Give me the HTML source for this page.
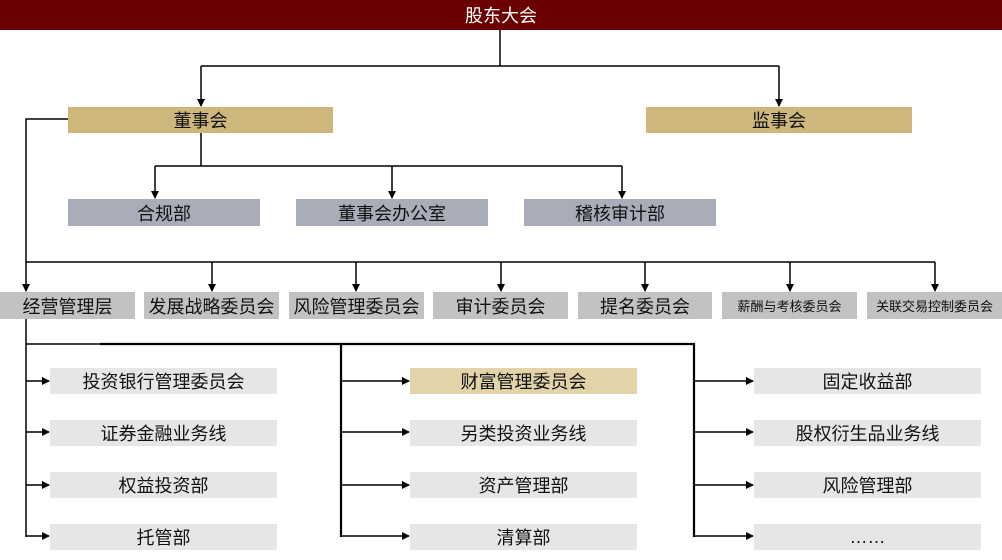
<!DOCTYPE html>
<html><head><meta charset="utf-8"><style>
body{margin:0;width:1002px;height:560px;background:#fff;position:relative;overflow:hidden;font-family:"Liberation Sans","Noto Sans CJK SC",sans-serif}
.b{position:absolute;display:flex;align-items:center;justify-content:center;color:#111;font-size:18px;white-space:nowrap}
svg{position:absolute;left:0;top:0}
</style></head><body>
<div class="b" style="left:0;top:0;width:1002px;height:30px;background:#6b0000;color:#fff;font-size:18px">股东大会</div>
<div class="b" style="left:68px;top:107px;width:265px;height:26px;background:#cdb77d">董事会</div>
<div class="b" style="left:646px;top:107px;width:266px;height:26px;background:#cdb77d">监事会</div>
<div class="b" style="left:68px;top:199px;width:192px;height:27px;background:#a9acb9">合规部</div>
<div class="b" style="left:296px;top:199px;width:192px;height:27px;background:#a9acb9">董事会办公室</div>
<div class="b" style="left:524px;top:199px;width:192px;height:27px;background:#a9acb9">稽核审计部</div>
<div class="b" style="left:0;top:292px;width:135px;height:27px;background:#c2c2c4">经营管理层</div>
<div class="b" style="left:144px;top:292px;width:135px;height:27px;background:#c2c2c4">发展战略委员会</div>
<div class="b" style="left:289px;top:292px;width:135px;height:27px;background:#c2c2c4">风险管理委员会</div>
<div class="b" style="left:433px;top:292px;width:135px;height:27px;background:#c2c2c4">审计委员会</div>
<div class="b" style="left:578px;top:292px;width:134px;height:27px;background:#c2c2c4">提名委员会</div>
<div class="b" style="left:722px;top:292px;width:135px;height:27px;background:#c2c2c4;font-size:13px">薪酬与考核委员会</div>
<div class="b" style="left:867px;top:292px;width:135px;height:27px;background:#c2c2c4;font-size:13px">关联交易控制委员会</div>

<div class="b" style="left:50px;top:368px;width:227px;height:26px;background:#e6e6e8">投资银行管理委员会</div>
<div class="b" style="left:50px;top:420px;width:227px;height:26px;background:#e6e6e8">证券金融业务线</div>
<div class="b" style="left:50px;top:472px;width:227px;height:26px;background:#e6e6e8">权益投资部</div>
<div class="b" style="left:50px;top:524px;width:227px;height:26px;background:#e6e6e8">托管部</div>
<div class="b" style="left:410px;top:368px;width:227px;height:26px;background:#e2d3a8">财富管理委员会</div>
<div class="b" style="left:410px;top:420px;width:227px;height:26px;background:#e6e6e8">另类投资业务线</div>
<div class="b" style="left:410px;top:472px;width:227px;height:26px;background:#e6e6e8">资产管理部</div>
<div class="b" style="left:410px;top:524px;width:227px;height:26px;background:#e6e6e8">清算部</div>
<div class="b" style="left:754px;top:368px;width:227px;height:26px;background:#e6e6e8">固定收益部</div>
<div class="b" style="left:754px;top:420px;width:227px;height:26px;background:#e6e6e8">股权衍生品业务线</div>
<div class="b" style="left:754px;top:472px;width:227px;height:26px;background:#e6e6e8">风险管理部</div>
<div class="b" style="left:754px;top:524px;width:227px;height:26px;background:#e6e6e8">……</div>

<svg width="1002" height="560">
<defs><marker id="a" markerWidth="8" markerHeight="8" refX="7" refY="4" orient="auto" markerUnits="userSpaceOnUse"><path d="M0,0L8,4L0,8z" fill="#000"/></marker></defs>
<g stroke="#000" stroke-width="1.5" fill="none">
<path d="M500,30V66M201,66H779"/>
<path d="M201,133V166M155,166H622"/>
<path d="M68,119H26V262M26,262H935"/>
<path d="M26,319V537M26,344H100"/>
<path d="M100,344H694V537M341,344V537" stroke-width="2.2"/>
</g>
<g stroke="#000" stroke-width="1.5" fill="none" marker-end="url(#a)">
<path d="M201,66V106"/><path d="M779,66V106"/>
<path d="M155,166V198"/><path d="M392,166V198"/><path d="M622,166V198"/>
<path d="M26,262V291"/><path d="M212,262V291"/><path d="M356,262V291"/><path d="M501,262V291"/><path d="M645,262V291"/><path d="M790,262V291"/><path d="M935,262V291"/>
<path d="M26,381H49"/><path d="M26,432H49"/><path d="M26,485H49"/><path d="M26,536H49"/>
<path d="M341,381H409"/><path d="M341,432H409"/><path d="M341,485H409"/><path d="M341,536H409"/>
<path d="M694,381H753"/><path d="M694,432H753"/><path d="M694,485H753"/><path d="M694,536H753"/>
</g></svg>
</body></html>
